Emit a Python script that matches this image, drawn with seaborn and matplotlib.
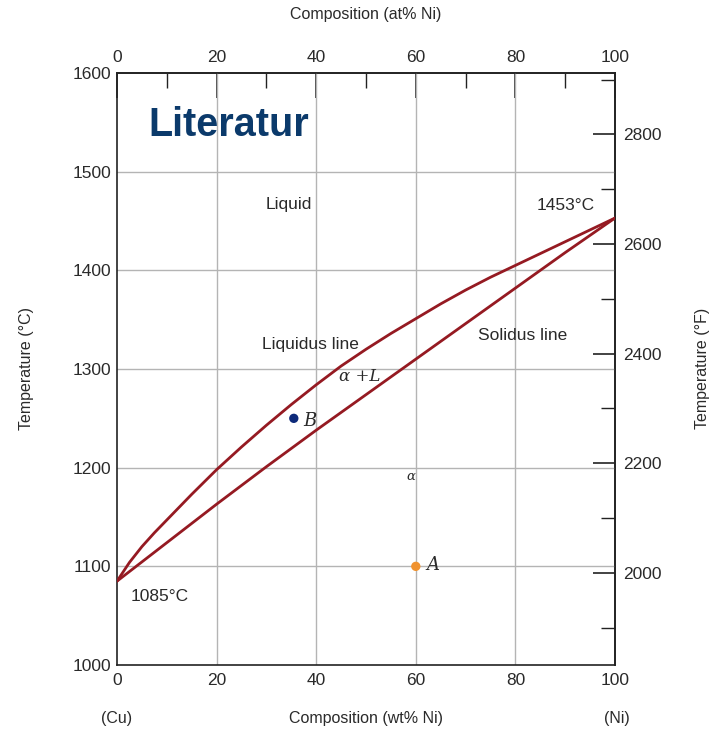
import matplotlib
matplotlib.use("Agg")
import matplotlib.pyplot as plt
import seaborn as sns
import pandas as pd
from matplotlib.ticker import MultipleLocator, FixedLocator

# Cu-Ni phase diagram: liquidus and solidus (wt% Ni vs. temperature in degC)
liquidus_wt = [0, 2.5, 5, 7.5, 10, 15, 20, 25, 30, 35, 40, 45, 50,
               55, 60, 65, 70, 75, 80, 85, 90, 95, 100]
liquidus_T = [1085, 1104, 1120, 1134, 1147, 1173, 1198, 1221, 1243, 1264, 1284, 1303, 1320,
              1336, 1351, 1366, 1380, 1393, 1405, 1417, 1429, 1441, 1453]
solidus_wt = [0, 10, 20, 30, 40, 50, 60, 70, 80, 90, 100]
solidus_T = [1085, 1124, 1163, 1201, 1238, 1274, 1310, 1346, 1382, 1418, 1453]

# Marked alloy states
point_names = ["A", "B"]
point_wt = [60, 35.5]
point_T = [1100, 1250]
point_colors = ["#f0922e", "#0d2a7a"]

x_ticks = [0, 20, 40, 60, 80, 100]
y_ticks = [1000, 1100, 1200, 1300, 1400, 1500, 1600]
f_ticks = [2000, 2200, 2400, 2600, 2800]

sns.set_theme(style="white")
plt.rcParams["font.family"] = ["Liberation Sans", "DejaVu Sans"]

line_color = "#951a22"
text_color = "#2a2a2a"
grid_color = "#b4b4b4"

fig = plt.figure(figsize=(7.21, 7.32), dpi=100)
ax = fig.add_axes([0.1623, 0.0915, 0.8530 - 0.1623, 0.9003 - 0.0915])

liq = pd.DataFrame({"wt": liquidus_wt, "T": liquidus_T})
sol = pd.DataFrame({"wt": solidus_wt, "T": solidus_T})
sns.lineplot(data=liq, x="wt", y="T", ax=ax, color=line_color, lw=2.0, sort=False, zorder=4)
sns.lineplot(data=sol, x="wt", y="T", ax=ax, color=line_color, lw=2.0, sort=False, zorder=4)

pts = pd.DataFrame({"name": point_names, "wt": point_wt, "T": point_T})
sns.scatterplot(data=pts, x="wt", y="T", hue="name", palette=point_colors,
                s=45, edgecolor="none", legend=False, ax=ax, zorder=5)

ax.set_xlim(0, 100)
ax.set_ylim(1000, 1600)

# gridlines at the labelled interior values
for gx in [20, 40, 60, 80]:
    ax.axvline(gx, color=grid_color, lw=1.0, zorder=1)
for gy in [1100, 1200, 1300, 1400, 1500]:
    ax.axhline(gy, color=grid_color, lw=1.0, zorder=1)

for s in ax.spines.values():
    s.set_color("#222222")
    s.set_linewidth(1.2)

tick_kw = dict(direction="in", colors="#222222", labelcolor=text_color, labelsize=12.5)
ax.xaxis.set_major_locator(FixedLocator(x_ticks))
ax.xaxis.set_minor_locator(MultipleLocator(10))
ax.yaxis.set_major_locator(FixedLocator(y_ticks))
ax.tick_params(axis="x", which="major", length=18, width=1.2, pad=6, **tick_kw)
ax.tick_params(axis="x", which="minor", length=11, width=1.0, direction="in", colors="#222222")
ax.tick_params(axis="y", which="major", length=14, width=1.2, pad=4, **tick_kw)
ax.set_xlabel("")
ax.set_ylabel("")

# top: atomic-percent scale
top = ax.secondary_xaxis("top")
top.xaxis.set_major_locator(FixedLocator(x_ticks))
top.xaxis.set_minor_locator(MultipleLocator(10))
top.tick_params(which="major", length=18, width=1.2, pad=6, **tick_kw)
top.tick_params(which="minor", length=11, width=1.0, direction="in", colors="#222222")

# right: Fahrenheit scale
right = ax.secondary_yaxis("right", functions=(lambda c: c * 9 / 5 + 32, lambda f: (f - 32) * 5 / 9))
right.yaxis.set_major_locator(FixedLocator(f_ticks))
right.yaxis.set_minor_locator(MultipleLocator(100))
right.tick_params(which="major", length=16, width=1.2, pad=6, **tick_kw)
right.tick_params(which="minor", length=10, width=1.0, direction="in", colors="#222222")

lab = dict(color=text_color, fontsize=11.5, ha="center", va="center")
fig.text(366 / 721, 1 - 14 / 732, "Composition (at% Ni)", **lab)
fig.text(366 / 721, 1 - 719 / 732, "Composition (wt% Ni)", **lab)
fig.text(117 / 721, 1 - 719 / 732, "(Cu)", **lab)
fig.text(617 / 721, 1 - 719 / 732, "(Ni)", **lab)
fig.text(27 / 721, 1 - 368 / 732, "Temperature (°C)", rotation=90, **lab)
fig.text(703 / 721, 1 - 368 / 732, "Temperature (°F)", rotation=90, **lab)

# region and line annotations
ax.text(6.2, 1547, "Literatur", ha="left", va="center", fontsize=28.5,
        fontweight="bold", color="#0b3a6b")
ax.text(34.5, 1467, "Liquid", ha="center", va="center", fontsize=12.5, color=text_color)
ax.text(90, 1466, "1453°C", ha="center", va="center", fontsize=12.5, color=text_color)
ax.text(38.8, 1325, "Liquidus line", ha="center", va="center", fontsize=12.5, color=text_color)
ax.text(81.5, 1334, "Solidus line", ha="center", va="center", fontsize=12.5, color=text_color)
ax.text(8.6, 1069, "1085°C", ha="center", va="center", fontsize=12.5, color=text_color)
serif = dict(family=["DejaVu Serif"], style="italic", color=text_color)
ax.text(48.8, 1292, "α +L", ha="center", va="center", fontsize=12, **serif)
ax.text(59, 1191, "α", ha="center", va="center", fontsize=9.5, **serif)
ax.text(38.8, 1247, "B", ha="center", va="center", fontsize=13, **serif)
ax.text(63.5, 1101, "A", ha="center", va="center", fontsize=13, **serif)

fig.savefig("out.png", dpi=100, facecolor="white")
